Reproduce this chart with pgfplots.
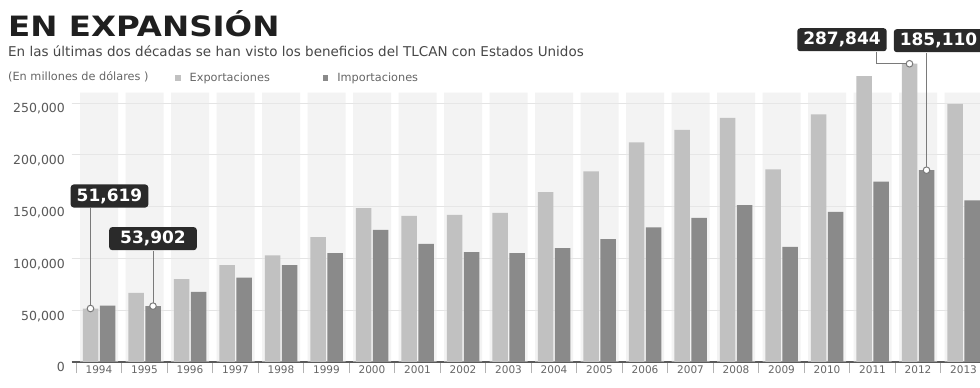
\documentclass[border=0pt]{standalone}
\usepackage{fontspec}
\setmainfont{DejaVu Sans}
\usepackage{pgfplots}
\pgfplotsset{compat=1.18}

\definecolor{expcol}{HTML}{C1C1C1}
\definecolor{impcol}{HTML}{8A8A8A}
\definecolor{boxcol}{HTML}{2A2A2A}
\definecolor{conncol}{HTML}{7A7A7A}
\definecolor{gridcol}{HTML}{E4E4E4}
\definecolor{axcol}{HTML}{5A5A5A}
\definecolor{labcol}{HTML}{666666}

\tikzset{valbox/.style={fill=boxcol, text=white, rounded corners=3pt,
    font=\bfseries\fontsize{17}{17}\selectfont, inner xsep=6pt, inner ysep=4pt}}

\begin{document}
\begin{tikzpicture}
\clip (0,0) rectangle (980pt,388pt);
\fill[white] (0,0) rectangle (980pt,388pt);

% headings
\node[anchor=base west, inner sep=0, text=black!88] at (8pt,351pt)
  {\scalebox{1.16}[1]{\fontsize{28}{28}\selectfont\bfseries EN EXPANSIÓN}};
\node[anchor=base west, inner sep=0, text=black!72] at (8pt,331pt)
  {\fontsize{13.5}{15}\selectfont En las últimas dos décadas se han visto los beneficios del TLCAN con Estados Unidos};
\node[anchor=base west, inner sep=0, text=labcol] at (8pt,307pt)
  {\fontsize{11.3}{12}\selectfont (En millones de dólares )};

\begin{axis}[
  at={(71.7pt,26pt)}, anchor=south west,
  scale only axis, width=919.1pt, height=269.4pt,
  xmin=-0.6, xmax=19.6, ymin=0, ymax=260000,
  clip=false,
  axis x line*=bottom, axis y line*=left,
  x axis line style={draw=axcol, line width=1.3pt, -},
  y axis line style={draw=none},
  xtick={0,...,19},
  xticklabels={1994,1995,1996,1997,1998,1999,2000,2001,2002,2003,2004,2005,2006,2007,2008,2009,2010,2011,2012,2013},
  minor xtick={-0.5,0.5,...,19.5},
  major x tick style={draw=none},
  minor x tick style={draw=black!30, line width=0.6pt},
  minor tick length=11pt,
  tick align=outside,
  xticklabel style={font=\fontsize{10.5}{12}\selectfont, text=labcol, anchor=base, yshift=-7pt},
  ytick={0,50000,100000,150000,200000,250000},
  major y tick style={draw=none},
  ymajorgrids, grid style={gridcol, line width=0.6pt},
  scaled y ticks=false,
  /pgf/number format/assume math mode=true,
  yticklabel={\pgfmathprintnumber[fixed,1000 sep={,}]{\tick}},
  yticklabel style={font=\fontsize{12.5}{13}\selectfont, text=black!65, anchor=base east, yshift=-10pt, xshift=1pt},
  legend columns=2,
  legend cell align=left,
  legend image code/.code={\fill[#1] (0pt,-2.5pt) rectangle (5.5pt,3pt);},
  legend style={at={(axis description cs:0.1124,1.054)}, anchor=west, draw=none, fill=none,
    inner sep=0pt, font=\fontsize{11.3}{12}\selectfont, text=labcol,
    /tikz/every odd column/.append style={column sep=7pt},
    /tikz/every even column/.append style={column sep=51pt}},
]

% background column behind each year
\addplot[ybar, bar width=38pt, bar shift=0pt, draw=none, fill=black!9, fill opacity=0.5, forget plot]
  coordinates {(0,260000)(1,260000)(2,260000)(3,260000)(4,260000)(5,260000)(6,260000)(7,260000)(8,260000)(9,260000)
               (10,260000)(11,260000)(12,260000)(13,260000)(14,260000)(15,260000)(16,260000)(17,260000)(18,260000)(19,260000)};

% exports
\addplot[ybar, bar width=15.5pt, bar shift=-8.5pt, draw=none, fill=expcol]
  coordinates {(0,51619)(1,66600)(2,80000)(3,93600)(4,103000)(5,120500)(6,148600)(7,141000)(8,142000)(9,144000)
               (10,164000)(11,184000)(12,212000)(13,224000)(14,235500)(15,186000)(16,239000)(17,276000)(18,287844)(19,249000)};
\addlegendentry{Exportaciones}

% imports
\addplot[ybar, bar width=15.5pt, bar shift=8.5pt, draw=none, fill=impcol]
  coordinates {(0,54500)(1,53902)(2,67600)(3,81500)(4,93600)(5,105000)(6,127400)(7,114000)(8,106000)(9,105000)
               (10,110000)(11,118700)(12,130000)(13,139000)(14,151500)(15,111000)(16,145000)(17,174000)(18,185110)(19,156000)};
\addlegendentry{Importaciones}

% call-outs
\draw[conncol, line width=1pt] ([yshift=3.5pt]axis cs:-0.187,51619) -- ++(0pt,97pt)
  node[valbox, anchor=south, xshift=19pt] {51,619};
\draw[conncol, line width=1pt] ([yshift=3.5pt]axis cs:1.187,53902) -- ++(0pt,52pt)
  node[valbox, anchor=south, inner xsep=11pt] {53,902};
\draw[conncol, line width=1pt] ([xshift=-3.5pt]axis cs:17.813,287844) -- ++(-30pt,0pt) -- ++(0pt,12pt)
  node[valbox, anchor=south, xshift=-34pt] {287,844};
\draw[conncol, line width=1pt] ([yshift=3.5pt]axis cs:18.187,185110) -- ++(0pt,114pt)
  node[valbox, anchor=south, xshift=12pt] {185,110};

\addplot[only marks, mark=*, mark size=3.3pt, mark options={fill=white, draw=conncol, line width=1pt}, forget plot]
  coordinates {(-0.187,51619)(1.187,53902)(17.813,287844)(18.187,185110)};
\end{axis}
\end{tikzpicture}
\end{document}
